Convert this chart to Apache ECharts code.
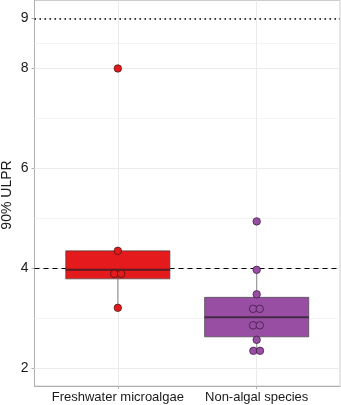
<!DOCTYPE html>
<html>
<head>
<meta charset="utf-8">
<script src="https://cdn.jsdelivr.net/npm/echarts@6/dist/echarts.min.js"></script>
<style>
  html, body { margin: 0; padding: 0; background: #fff; }
  #chart { width: 341px; height: 405px; }
</style>
</head>
<body>
<div id="chart"></div>
<script>
// categories and box stats: [lower whisker, q1, median, q3, upper whisker]
const categories = ["Freshwater microalgae", "Non-algal species"];
const boxStats = [
  [3.21, 3.79, 3.97, 4.35, 4.35],
  [2.35, 2.63, 3.02, 3.42, 3.97]
];
// individual points: [value, horizontal dodge]
const freshwaterPoints = [[8.0, 0], [4.35, 0], [3.89, -0.026], [3.89, 0.024], [3.21, 0]];
const nonAlgalPoints = [
  [4.94, 0], [3.97, 0], [3.48, 0], [3.19, -0.026], [3.19, 0.022],
  [2.86, -0.026], [2.86, 0.022], [2.57, 0], [2.35, -0.024], [2.35, 0.024]
];
const yTicks = [2, 4, 6, 8, 9];
const yMinor = [3, 5, 7, 8.5];
const refDashed = 4;
const refDotted = 9;
const yTitle = "90% ULPR";

const fills = ["#E41A1C", "#984EA3"];
const boxWidth = 0.75;
const font = "Liberation Sans";

const chart = echarts.init(document.getElementById("chart"), null, { renderer: "canvas" });

const gridLines = [];
yTicks.forEach(v => gridLines.push({ yAxis: v, lineStyle: { color: "#ebebeb", width: 1, type: "solid" } }));
yMinor.forEach(v => gridLines.push({ yAxis: v, lineStyle: { color: "#f4f4f4", width: 1, type: "solid" } }));
categories.forEach((c, i) => gridLines.push({ xAxis: i + 1, lineStyle: { color: "#ebebeb", width: 1, type: "solid" } }));

const toPts = (arr, i) => arr.map(p => [i + 1 + p[1], p[0]]);

const option = {
  animation: false,
  graphic: [{
    type: "text",
    x: 7,
    y: 195,
    rotation: Math.PI / 2,
    style: { text: yTitle, fontSize: 14, fontFamily: font, fill: "#1a1a1a", align: "center", verticalAlign: "middle" }
  }],
  grid: {
    left: 34.5, right: 1, top: 0.5, bottom: 19,
    containLabel: false, outerBoundsMode: "none",
    show: true, borderColor: "#cccccc", borderWidth: 1
  },
  xAxis: {
    type: "value",
    min: 0.4,
    max: 2.6,
    axisLine: { show: true, lineStyle: { color: "#b0b0b0" } },
    axisTick: { show: true, length: 3, customValues: [1, 2], lineStyle: { color: "#b0b0b0" } },
    axisLabel: {
      customValues: [1, 2],
      margin: 5,
      fontSize: 13,
      fontFamily: font,
      color: "#1a1a1a",
      formatter: v => categories[Math.round(v) - 1] || ""
    },
    splitLine: { show: false }
  },
  yAxis: {
    type: "value",
    min: 1.646,
    max: 9.36,
    axisLine: { show: true, lineStyle: { color: "#b0b0b0" } },
    axisTick: { show: true, length: 3, customValues: yTicks, lineStyle: { color: "#b0b0b0" } },
    axisLabel: { customValues: yTicks, margin: 6, fontSize: 14, fontFamily: font, color: "#1a1a1a" },
    splitLine: { show: false }
  },
  series: [
    {
      type: "line",
      data: [],
      z: 1,
      silent: true,
      markLine: { z: 1, silent: true, symbol: "none", label: { show: false }, animation: false, data: gridLines }
    },
    {
      type: "line",
      data: [],
      z: 2,
      silent: true,
      markLine: {
        z: 2, silent: true, symbol: "none", label: { show: false }, animation: false,
        data: [
          { yAxis: refDashed, lineStyle: { color: "#000", width: 1.2, type: [5, 4] } },
          { yAxis: refDotted, lineStyle: { color: "#000", width: 1.5, type: [1.5, 3.5] } }
        ]
      }
    },
    {
      type: "custom",
      z: 3,
      data: boxStats.map((s, i) => [i + 1].concat(s)),
      renderItem: function (params, api) {
        const x = api.value(0);
        const lo = api.coord([x, api.value(1)]);
        const q1 = api.coord([x, api.value(2)]);
        const md = api.coord([x, api.value(3)]);
        const q3 = api.coord([x, api.value(4)]);
        const hi = api.coord([x, api.value(5)]);
        const half = api.size([boxWidth, 0])[0] / 2;
        const fill = fills[params.dataIndex];
        return {
          type: "group",
          children: [
            { type: "line", shape: { x1: lo[0], y1: lo[1], x2: q1[0], y2: q1[1] }, style: { stroke: "#9a9a9a", lineWidth: 1.2 } },
            { type: "line", shape: { x1: q3[0], y1: q3[1], x2: hi[0], y2: hi[1] }, style: { stroke: "#9a9a9a", lineWidth: 1.2 } },
            { type: "rect", shape: { x: q3[0] - half, y: q3[1], width: half * 2, height: q1[1] - q3[1] }, style: { fill: fill, stroke: "rgba(70,70,70,0.7)", lineWidth: 1 } },
            { type: "line", shape: { x1: md[0] - half, y1: md[1], x2: md[0] + half, y2: md[1] }, style: { stroke: "rgba(40,30,40,0.75)", lineWidth: 2 } }
          ]
        };
      }
    },
    {
      type: "scatter",
      z: 4,
      symbolSize: 7.5,
      data: toPts(freshwaterPoints, 0),
      itemStyle: { color: fills[0], borderColor: "rgba(60,20,20,0.85)", borderWidth: 0.8, opacity: 1 }
    },
    {
      type: "scatter",
      z: 4,
      symbolSize: 7.5,
      data: toPts(nonAlgalPoints, 1),
      itemStyle: { color: fills[1], borderColor: "rgba(50,20,55,0.85)", borderWidth: 0.8, opacity: 1 }
    }
  ]
};
chart.setOption(option);
window.addEventListener("resize", chart.resize);
</script>
</body>
</html>
